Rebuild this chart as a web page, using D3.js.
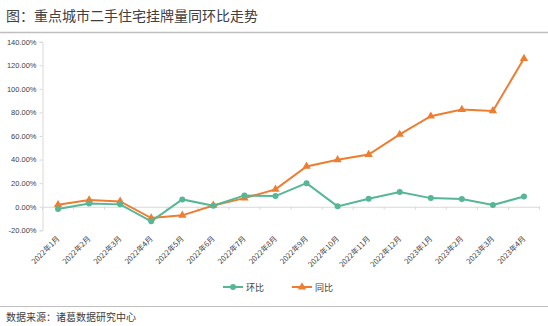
<!DOCTYPE html>
<html>
<head>
<meta charset="utf-8">
<script src="https://cdn.jsdelivr.net/npm/d3@7"></script>
<style>
  html, body { margin: 0; padding: 0; background: #fff; }
  svg { display: block; font-family: "Noto Sans CJK SC", "Noto Sans", sans-serif; }
</style>
</head>
<body>
<svg id="chart" width="548" height="326"></svg>
<script>
const categories = ["2022年1月","2022年2月","2022年3月","2022年4月","2022年5月","2022年6月","2022年7月","2022年8月","2022年9月","2022年10月","2022年11月","2022年12月","2023年1月","2023年2月","2023年3月","2023年4月"];
const huanbi = [-2.0, 2.8, 2.0, -12.4, 6.2, 0.9, 9.6, 9.0, 20.0, 0.3, 6.8, 12.4, 7.3, 6.5, 1.4, 8.7];
const tongbi = [1.7, 5.7, 4.5, -9.6, -7.3, 1.1, 7.3, 14.7, 34.2, 39.8, 44.3, 61.3, 76.8, 82.5, 81.3, 125.7];
const yTicks = [-20, 0, 20, 40, 60, 80, 100, 120, 140];

const title = "图：重点城市二手住宅挂牌量同环比走势";
const source = "数据来源：诸葛数据研究中心";
const GREEN = "#55b796", ORANGE = "#ee7d31";

const svg = d3.select("#chart");
const W = 548, H = 326;
const plot = { left: 42.5, right: 539.5, top: 41.7, bottom: 230.3 };

// title and separators
svg.append("text").attr("x", 6).attr("y", 21).attr("font-size", 14).attr("fill", "#404040").text(title);
svg.append("line").attr("x1", 0).attr("x2", W).attr("y1", 32.5).attr("y2", 32.5).attr("stroke", "#bfbfbf").attr("stroke-width", 1.5);
svg.append("line").attr("x1", 0).attr("x2", W).attr("y1", 306.5).attr("y2", 306.5).attr("stroke", "#bfbfbf").attr("stroke-width", 1);
svg.append("text").attr("x", 6).attr("y", 321).attr("font-size", 10).attr("fill", "#404040").text(source);

const x = d3.scaleBand().domain(categories).range([plot.left, plot.right]);
const y = d3.scaleLinear().domain([-20, 140]).range([plot.bottom, plot.top]);

// y axis
const yAxis = svg.append("g").attr("transform", `translate(${plot.left},0)`)
  .call(d3.axisLeft(y).tickValues(yTicks).tickSize(3).tickPadding(3).tickFormat(d => d.toFixed(2) + "%"));
yAxis.select(".domain").attr("stroke", "#d9d9d9");
yAxis.selectAll(".tick line").attr("stroke", "#d9d9d9");
yAxis.selectAll("text").attr("font-size", 7.5).attr("fill", "#404040").attr("font-family", "Liberation Sans, Arial, sans-serif");

// x axis at zero line
const xAxis = svg.append("g").attr("transform", `translate(0,${y(0)})`)
  .call(d3.axisBottom(x).tickSize(0).tickFormat(""));
xAxis.select(".domain").attr("stroke", "#d9d9d9").attr("stroke-width", 1.2);
// tick marks at band boundaries
svg.append("g").selectAll("line")
  .data(categories.concat(["__end"]))
  .join("line")
  .attr("x1", (d, i) => plot.left + i * x.step())
  .attr("x2", (d, i) => plot.left + i * x.step())
  .attr("y1", y(0)).attr("y2", y(0) + 3)
  .attr("stroke", "#d9d9d9");

// category labels along the bottom of the plot area, rotated
svg.append("g").selectAll("text")
  .data(categories)
  .join("text")
  .attr("transform", d => `translate(${x(d) + x.bandwidth() / 2 + 2},${plot.bottom + 9}) rotate(-45)`)
  .attr("text-anchor", "end")
  .attr("font-size", 7.5)
  .attr("fill", "#404040")
  .text(d => d);

const line = d3.line().x((d, i) => x(categories[i]) + x.bandwidth() / 2).y(d => y(d));

// 同比 series
svg.append("path").datum(tongbi).attr("d", line).attr("fill", "none").attr("stroke", ORANGE).attr("stroke-width", 2);
const tri = d3.symbol().type(d3.symbolTriangle).size(30);
svg.append("g").selectAll("path").data(tongbi).join("path")
  .attr("d", tri)
  .attr("transform", (d, i) => `translate(${x(categories[i]) + x.bandwidth() / 2},${y(d)})`)
  .attr("fill", ORANGE);

// 环比 series
svg.append("path").datum(huanbi).attr("d", line).attr("fill", "none").attr("stroke", GREEN).attr("stroke-width", 2);
svg.append("g").selectAll("circle").data(huanbi).join("circle")
  .attr("cx", (d, i) => x(categories[i]) + x.bandwidth() / 2)
  .attr("cy", d => y(d))
  .attr("r", 3)
  .attr("fill", GREEN);

// legend
const legend = [
  { name: "环比", color: GREEN, marker: "circle", x: 223 },
  { name: "同比", color: ORANGE, marker: "triangle", x: 292 }
];
const lg = svg.append("g").selectAll("g").data(legend).join("g")
  .attr("transform", d => `translate(${d.x},287)`);
lg.append("line").attr("x1", 0).attr("x2", 20).attr("stroke", d => d.color).attr("stroke-width", 2);
lg.filter(d => d.marker === "circle").append("circle").attr("cx", 10).attr("r", 3).attr("fill", d => d.color);
lg.filter(d => d.marker === "triangle").append("path").attr("d", tri).attr("transform", "translate(10,0)").attr("fill", d => d.color);
lg.append("text").attr("x", 23).attr("y", 3.5).attr("font-size", 9).attr("fill", "#404040").text(d => d.name);
</script>
</body>
</html>
